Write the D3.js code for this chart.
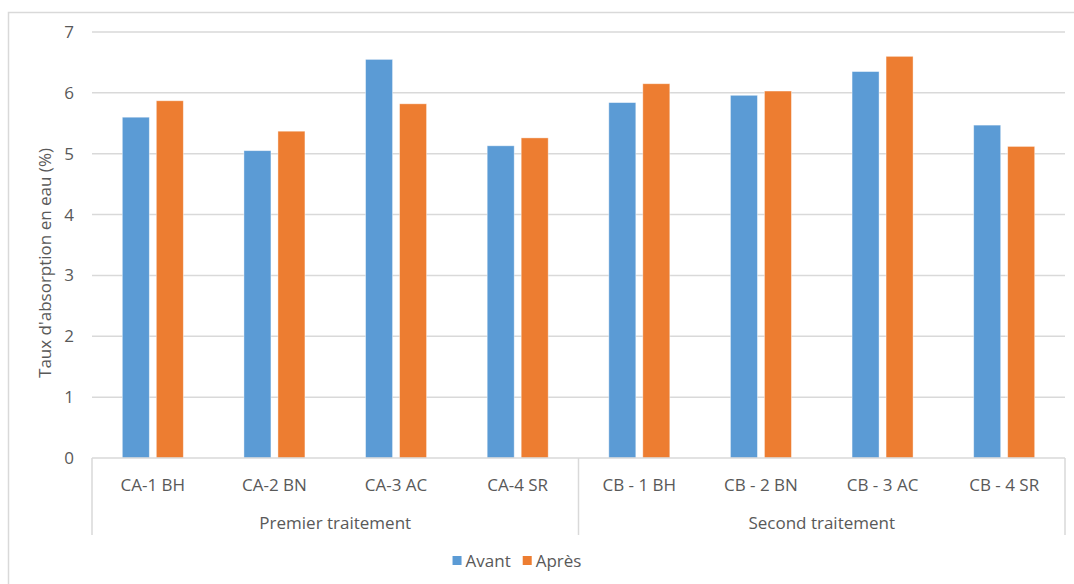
<!DOCTYPE html>
<html>
<head>
<meta charset="utf-8">
<script src="https://cdn.jsdelivr.net/npm/d3@7"></script>
<style>
  html, body { margin: 0; padding: 0; background: #fff; }
  svg text { font-family: "Open Sans", "Noto Sans", sans-serif; fill: #595959; }
</style>
</head>
<body>
<svg id="chart" width="1074" height="584"></svg>
<script>
// Water absorption rate before/after treatment, per sample
const categories = ["CA-1 BH", "CA-2 BN", "CA-3 AC", "CA-4 SR", "CB - 1 BH", "CB - 2 BN", "CB - 3 AC", "CB - 4 SR"];
const groups = ["Premier traitement", "Second traitement"];
const groupOf = [0, 0, 0, 0, 1, 1, 1, 1];
const seriesNames = ["Avant", "Après"];
const avant = [5.60, 5.05, 6.55, 5.13, 5.84, 5.96, 6.35, 5.47];
const apres = [5.87, 5.37, 5.82, 5.26, 6.15, 6.03, 6.60, 5.12];
const yTicks = [0, 1, 2, 3, 4, 5, 6, 7];
const colors = ["#5b9bd5", "#ed7d31"];

const svg = d3.select("#chart");
const plot = { left: 92, right: 1065, top: 32, bottom: 458 };
const fs = 17;

// Outer chart frame
svg.append("rect")
  .attr("x", 8.5).attr("y", 12.5).attr("width", 1080).attr("height", 600)
  .attr("fill", "none").attr("stroke", "#d9d9d9").attr("stroke-width", 1.5);

const x = d3.scaleBand().domain(categories).range([plot.left, plot.right]);
const y = d3.scaleLinear().domain([0, 7]).range([plot.bottom, plot.top]);

// Horizontal gridlines
svg.append("g").selectAll("line").data(yTicks.filter(d => d > 0)).join("line")
  .attr("x1", plot.left).attr("x2", plot.right)
  .attr("y1", d => y(d)).attr("y2", d => y(d))
  .attr("stroke", "#d9d9d9").attr("stroke-width", 1.5);

// Y axis labels
const yAxis = d3.axisLeft(y).tickValues(yTicks).tickSize(0).tickPadding(18).tickFormat(d3.format("d"));
const yg = svg.append("g").attr("transform", `translate(${plot.left},0)`).call(yAxis);
yg.select(".domain").remove();
yg.selectAll("text").attr("font-size", fs).style("fill", "#595959")
  .attr("font-family", '"Open Sans", sans-serif');

// Y axis title
svg.append("text")
  .attr("transform", `translate(51,${(plot.top + plot.bottom) / 2 + 18}) rotate(-90)`)
  .attr("text-anchor", "middle").attr("font-size", fs)
  .text("Taux d'absorption en eau (%)");

// Bars
const barW = 27, barGap = 7;
const series = [avant, apres];
series.forEach((vals, s) => {
  svg.append("g").selectAll("rect").data(categories).join("rect")
    .attr("x", (c, i) => x(c) + x.bandwidth() / 2 - barGap / 2 - barW + s * (barW + barGap))
    .attr("y", (c, i) => y(vals[i]))
    .attr("width", barW)
    .attr("height", (c, i) => y(0) - y(vals[i]))
    .attr("fill", colors[s])
    .attr("stroke", "#fff").attr("stroke-opacity", 0.5).attr("stroke-width", 0.8);
});

// Category axis baseline
svg.append("line")
  .attr("x1", plot.left).attr("x2", plot.right)
  .attr("y1", plot.bottom).attr("y2", plot.bottom)
  .attr("stroke", "#d9d9d9").attr("stroke-width", 1.5);

// Group separators (multi-level category axis)
const sepBottom = 535;
const boundaries = [0];
groupOf.forEach((g, i) => { if (i > 0 && g !== groupOf[i - 1]) boundaries.push(i); });
const sepX = boundaries.map(i => x(categories[i])).concat([plot.right]);
svg.append("g").selectAll("line").data(sepX).join("line")
  .attr("x1", d => d).attr("x2", d => d)
  .attr("y1", plot.bottom).attr("y2", sepBottom)
  .attr("stroke", "#d9d9d9").attr("stroke-width", 1.5);

// Category labels
svg.append("g").selectAll("text").data(categories).join("text")
  .attr("x", c => x(c) + x.bandwidth() / 2)
  .attr("y", 491)
  .attr("text-anchor", "middle").attr("font-size", fs)
  .text(c => c);

// Group labels
svg.append("g").selectAll("text").data(groups).join("text")
  .attr("x", (g, gi) => (sepX[gi] + sepX[gi + 1]) / 2)
  .attr("y", 529)
  .attr("text-anchor", "middle").attr("font-size", fs)
  .text(g => g);

// Legend, laid out from measured text widths and centred under the plot
const legend = svg.append("g");
const sw = 9, swGap = 4, itemGap = 12;
const items = seriesNames.map((name, s) => {
  const g = legend.append("g");
  g.append("rect").attr("y", 556).attr("width", sw).attr("height", sw).attr("fill", colors[s]);
  const t = g.append("text").attr("x", sw + swGap).attr("y", 567).attr("font-size", fs).text(name);
  return { g, w: sw + swGap + t.node().getComputedTextLength() };
});
const total = d3.sum(items, d => d.w) + itemGap * (items.length - 1);
let lx = 517 - total / 2;
items.forEach(it => { it.g.attr("transform", `translate(${lx},0)`); lx += it.w + itemGap; });
</script>
</body>
</html>
